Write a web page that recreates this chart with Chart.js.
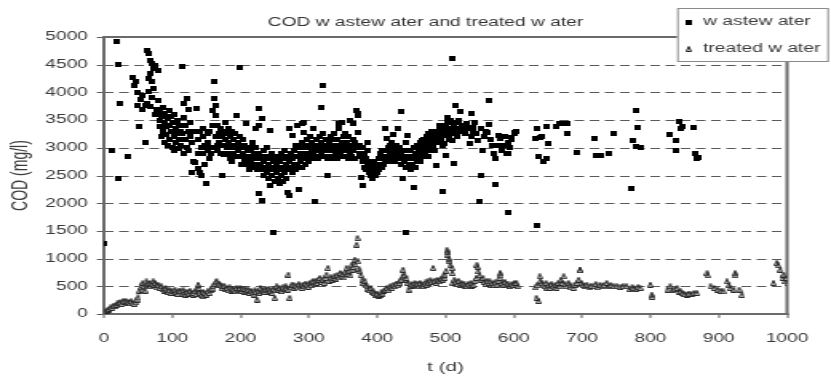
<!DOCTYPE html>
<html><head><meta charset="utf-8">
<script src="https://cdn.jsdelivr.net/npm/chart.js@4"></script>
<style>
html,body{margin:0;padding:0;background:#fff;overflow:hidden}
#wrap{width:831px;height:377px;overflow:hidden;position:relative}
#c{display:block;width:520px;height:377px;transform:scaleX(1.598);transform-origin:0 0}
</style></head><body><div id="wrap"><canvas id="c" width="520" height="377"></canvas></div>
<script>
// ---- data ----
const chartTitle = 'COD w astew ater and treated w ater';
const seriesNames = ['w astew ater', 'treated w ater'];
const xAxisTitle = 't (d)';
const yAxisTitle = 'COD (mg/l)';
const xTicks = [0,100,200,300,400,500,600,700,800,900,1000];
const yTicks = [0,500,1000,1500,2000,2500,3000,3500,4000,4500,5000];

// [day, COD mg/l]
const wastewater = [
[1,1270],[11,2950],[19,4920],[20,2440],[22,4510],[24,3800],[34,2850],
[43,4270],[45,4130],[46,4200],[48,4000],[50,3770],[52,3380],[53,3880],[55,3700],[57,3950],[60,3090],[61,3760],[62,3800],[63,4760],[65,4250],[65,4010],[66,4700],[67,4580],[67,4340],[68,3740],[70,4520],[70,4190],[71,3900],[72,4430],[72,4070],[74,4490],[75,3600],[77,3700],[79,4400],[80,3860],[81,3500],[82,3650],
[83,3380],[84,3200],[85,3560],[86,3720],[87,3300],[88,3460],[89,3100],[90,3620],[91,3380],[92,3240],[93,3520],[94,3050],[95,3680],[96,3400],[97,3150],[98,3560],[99,3300],[100,3000],[101,3450],[102,3200],[103,3600],[104,2950],[105,3350],[106,3100],[107,3500],[108,3250],[109,2980],[110,3400],[111,3150],[112,3300],[113,3050],[114,4460],[115,3250],[116,3550],[117,2900],[118,3800],[119,3150],[120,3400],[121,3890],[122,3000],[123,3300],[124,3700],[125,2950],[126,3200],[127,3450],[128,2560],[129,3100],[130,3300],
[132,2750],[134,2740],[136,3710],[137,2900],[138,2620],[139,3150],[140,3300],[141,2560],[142,3000],[143,2500],[144,3200],[145,2900],[146,3350],[147,2700],[148,3050],[150,2350],[151,3250],[152,2950],[153,3100],[154,2800],[155,3300],[156,3000],[157,2900],
[159,3400],[160,3675],[161,4190],[162,3886],[163,3766],[163,3585],[164,3200],[165,3050],[166,3400],[167,2950],[168,3250],[169,3100],[170,3350],[171,2900],[172,2500],[173,3200],[174,3050],[175,3300],[176,2880],[177,3150],[178,3450],[179,3000],[180,3250],
[181,2900],[182,3100],[183,3350],[184,2800],[185,3200],[186,3000],[187,3300],[188,2750],[189,3150],[190,2900],[191,3050],[192,3250],[194,3585],[195,2850],[196,3100],[197,2950],[198,3200],[199,4450],[200,2700],[201,3000],[202,2850],[203,3150],[204,2900],[205,2750],[206,3050],[207,2800],[209,3435],[210,2950],
[211,2700],[212,3000],[213,2850],[214,2600],[215,2950],[216,2750],[217,3100],[218,2800],[219,2650],[220,2900],[221,2700],[222,3000],[223,3344],[224,2800],[225,2600],[226,3404],[226,2170],[227,2900],[228,3705],[229,2700],[230,2850],[231,3525],[231,2050],[232,2600],[233,2950],[234,2750],[235,2500],[236,2850],[237,2650],[238,3000],[239,2550],[240,2800],[241,2450],[242,2700],[243,3314],[243,2321],[244,2600],[245,2900],[246,2500],[247,2750],[248,1478],[249,2650],[250,2400],[251,2850],[252,2550],[253,2700],[254,2450],[255,2800],[256,2600],[257,2350],[258,2750],
[259,2500],[260,2900],[261,2650],[262,2400],[263,2800],[264,2550],[265,2950],[266,2700],[267,2450],[268,2850],[269,2600],[270,2200],[271,2750],[272,3350],[272,2140],[273,2900],[274,2650],[275,3224],[276,2800],[277,2550],[278,2950],[279,2700],[280,3050],[281,2600],[282,3404],[283,2850],[284,2700],[285,2243],[286,3000],[287,2750],[288,2900],[289,3442],[290,2650],[291,3100],[292,3464],[292,3284],[293,2850],[294,2700],[295,3000],[296,2800],[297,3150],[298,2900],[299,2750],[300,3050],[301,2850],[302,3200],[303,2950],[304,2800],[305,3100],[306,2900],[307,3344],[308,3000],[309,2030],[310,2850],[311,3150],[312,2950],[313,3050],[314,2800],[315,3200],[316,2950],[317,3720],[318,3100],[319,2900],[320,4130],[321,3254],[322,3000],
[323,2850],[324,3150],[325,2950],[326,3050],[327,2800],[328,2501],[329,3100],[330,2950],[331,3200],[332,2850],[333,3050],[334,2950],[335,3150],[336,2800],[337,3000],[338,3250],[339,2900],[340,3050],[341,2800],[342,3150],[343,2950],[345,3344],[345,3442],[346,3050],[347,2900],[348,3464],[349,3100],[350,2950],[351,3200],[352,2850],[353,3050],[354,3250],[355,2950],[356,3100],[357,2800],[358,3000],[359,3200],[360,2900],[361,3500],[362,3050],[363,2850],[364,3150],[365,3434],[366,2950],[367,3100],[368,2800],[369,3000],[370,3677],[371,3620],[372,3284],[373,3587],[374,2900],[375,3050],[376,2471],[377,2850],[378,2321],[379,3000],[380,2750],[381,2900],[382,2650],[383,2800],[384,2600],[385,2950],[386,2700],[387,3103],[388,2550],[389,2750],[390,2600],[391,2500],[392,2700],[393,2450],[394,2650],[395,2550],[396,2750],[397,2500],[398,2600],[399,2700],[400,2550],[401,2650],[402,2800],[403,2600],[404,2700],[405,2900],[406,2650],[407,2800],[408,2950],[409,2700],[410,2850],[411,3352],[412,2750],[413,2950],[414,3164],[415,2850],[416,3000],[417,2750],[418,2900],[419,3050],[420,2800],
[421,2950],[422,3100],[423,3240],[424,2850],[425,3000],[426,2750],[427,2900],[428,3050],[429,2800],[430,2950],[431,3344],[432,2850],[433,3000],[434,2700],[435,2900],[436,3660],[437,2800],[438,2441],[439,2950],[440,2750],[441,3100],[442,2650],[443,1470],[444,2850],[445,3224],[446,2700],[447,2950],[448,2600],[449,2800],[450,2950],[451,2700],[452,2850],[453,2290],[454,3000],[455,2800],[456,2650],[457,2900],[458,3050],[459,2750],[460,2950],[461,2800],[462,3100],[463,2900],[464,2750],[465,3133],[466,3000],[467,2850],[468,3150],[469,2950],[470,3050],[471,2900],[472,3200],[473,3000],[474,2850],[475,3100],[476,3250],[477,2950],[478,3150],[479,3050],[480,3300],[481,3000],[482,3200],[483,3100],[484,2950],[485,3250],[486,3150],[487,2682],[488,3300],[489,3100],[490,3200],[491,3400],[492,3344],[493,3150],[494,3300],[495,3050],[496,2212],[497,3224],[498,3350],[499,3073],[500,3400],[501,2862],[502,3555],[503,3250],[504,3450],[505,3150],[506,3224],[507,3350],[508,3500],[509,3300],[510,4620],[511,3133],[512,2712],[513,3400],[514,3766],[515,3250],[516,3314],[517,3450],[518,3200],[519,3350],[520,3500],
[521,3657],[522,3300],[524,3400],[526,3344],[528,3250],[531,3434],[533,3350],[535,3073],[537,3200],[538,3615],[540,3300],[541,3374],[543,3450],[545,3250],[548,3133],[549,2032],[551,2501],[553,3350],[555,2953],[557,3200],[560,3300],[562,3284],[564,3856],[564,3416],[566,3150],[568,3050],[570,2893],[572,2802],[572,2333],[575,3050],[577,3224],[580,3164],[583,2950],[585,3050],[588,3200],[590,2900],[592,3103],[592,2893],[592,1839],[594,3013],[596,3150],[597,3194],[600,3250],[602,3284],[604,3300],
[632,3166],[634,1590],[635,3351],[637,2834],[638,3194],[641,3200],[644,2744],[647,3392],[648,2802],[650,3085],[663,3376],[666,3434],[673,3434],[678,3434],[678,3256],[692,2924],[719,3164],[721,2864],[727,2864],[740,2905],[747,3266],[773,2260],[775,3135],[779,3675],[780,3030],[782,3374],[785,3000],[829,3244],[838,3135],[838,2955],[841,3477],[844,3357],[846,3392],[864,3370],[866,2900],[868,2810],[870,2833]
];

const treatedWater = [
[0,20],[2,30],[4,60],[6,80],[8,90],[10,120],[12,110],[14,150],[16,140],[18,170],[20,190],[22,200],[24,210],[26,180],[28,230],[30,220],[32,240],[34,200],[36,220],[38,190],[40,230],[42,200],[44,180],[46,210],[48,260],[50,300],[52,420],[54,480],[55,520],[56,440],[57,560],[58,500],[60,420],[62,590],[63,520],[65,550],[67,560],[68,500],[70,540],[72,590],[73,530],[75,560],[77,530],[78,480],[80,520],[82,470],[84,500],[86,450],[88,420],[90,470],[92,440],[94,400],[96,430],[98,380],[100,420],[102,380],[104,440],[106,400],[108,360],[110,420],[112,410],[114,370],[116,430],[118,390],[120,350],[122,400],[124,370],[126,420],[128,380],[130,350],[131,380],[133,410],[135,360],[137,450],[138,530],[139,470],[141,380],[143,350],[145,400],[146,320],[148,380],[150,350],[152,410],[154,380],[156,430],[158,460],[160,500],[162,540],[164,570],[165,590],[167,520],[168,550],[170,530],[172,500],[174,470],[176,510],[178,450],[180,470],[182,430],[184,480],[186,420],[188,460],[190,440],[192,410],[194,470],[196,430],[198,450],[199,470],[201,420],[203,460],[205,400],[207,450],[209,410],[211,440],[213,380],[215,420],[217,390],[219,350],[221,430],[222,400],[224,260],[226,420],[228,380],[229,470],[231,410],[233,440],[235,400],[237,450],[238,440],[240,400],[242,460],[244,420],[246,380],[248,450],[250,290],[251,430],[253,500],[255,440],[257,470],[259,420],[260,410],[262,480],[264,450],[266,500],[267,470],[269,440],[270,710],[272,290],[273,480],[275,520],[277,530],[279,470],[281,510],[283,480],[285,540],[287,500],[289,470],[291,530],[293,500],[295,550],[297,530],[299,490],[301,560],[303,520],[305,580],[306,590],[308,540],[310,600],[312,560],[314,620],[316,650],[318,580],[320,620],[322,560],[324,650],[326,710],[328,830],[330,600],[332,660],[334,620],[336,650],[338,690],[340,640],[342,700],[344,660],[346,740],[348,680],[350,720],[352,660],[354,760],[355,830],[357,720],[359,780],[361,700],[363,890],[364,800],[365,850],[367,980],[368,900],[370,1250],[371,1370],[372,950],[373,820],[375,770],[376,700],[378,620],[380,560],[382,600],[383,520],[385,500],[387,460],[389,430],[391,470],[393,400],[394,410],[396,380],[398,350],[400,370],[402,330],[404,350],[406,400],[408,370],[410,420],[412,440],[414,470],[416,430],[418,480],[420,500],[422,470],[424,530],[426,500],[428,550],[430,520],[432,560],[433,590],[435,620],[437,680],[438,800],[440,700],[442,620],[443,650],[445,560],[446,440],[448,500],[450,540],[452,510],[453,530],[455,560],[457,520],[459,550],[461,500],[463,560],[465,530],[467,500],[469,550],[471,570],[472,530],[474,590],[476,560],[478,610],[480,580],[482,830],[484,600],[486,560],[488,620],[490,600],[492,590],[494,640],[496,620],[497,680],[499,650],[499,710],[501,780],[502,1160],[503,1119],[504,1070],[505,1000],[506,950],[507,880],[509,830],[510,740],[511,560],[513,620],[515,580],[517,540],[519,600],[521,530],[523,560],[525,520],[527,550],[529,510],[531,500],[533,540],[535,520],[537,560],[539,510],[541,530],[543,600],[545,650],[546,890],[547,848],[548,770],[550,700],[552,620],[555,650],[557,580],[559,540],[561,600],[563,560],[565,590],[567,530],[569,560],[571,520],[573,570],[575,530],[577,600],[579,650],[580,740],[581,699],[583,560],[585,530],[587,580],[589,520],[591,550],[593,500],[595,500],[597,540],[599,520],[601,560],[603,530],[604,560],[606,500],
[632,480],[633,290],[634,520],[636,235],[638,680],[639,600],[641,560],[643,530],[645,500],[647,560],[649,470],[651,520],[653,470],[655,540],[657,500],[659,480],[661,530],[663,470],[665,560],[667,500],[669,620],[671,560],[673,680],[675,540],[677,500],[680,560],[682,520],[684,480],[687,470],[689,530],[692,560],[695,620],[697,800],[697,789],[699,560],[701,520],[704,500],[707,530],[710,480],[713,510],[717,500],[720,540],[723,480],[726,530],[729,500],[732,520],[736,560],[739,500],[742,520],[746,500],[751,500],[756,490],[760,500],[765,500],[770,450],[773,480],[775,470],[778,460],[782,490],[785,470],[800,530],[802,350],[803,307],[825,440],[829,500],[832,430],[836,450],[839,470],[842,400],[844,410],[847,380],[850,360],[853,350],[856,370],[860,360],[864,380],[868,380],[883,740],[884,699],[888,500],[893,470],[898,440],[903,420],[907,410],[912,590],[915,520],[917,470],[922,440],[924,740],[925,699],[930,440],[934,343],[980,560],[985,920],[987,879],[990,800],[993,650],[995,710],[997,590],[999,650],[1000,554]
];

// ---- styles ----
const FONT = 'Liberation Sans, Arial, sans-serif';
const TEXT = '#3a3a3a';
const GRID = '#5a5a5a';

function squareMarker() {
  const c = document.createElement('canvas'); c.width = 4; c.height = 5;
  const g = c.getContext('2d'); g.fillStyle = '#000'; g.fillRect(0, 0, 4, 5);
  return c;
}
function triangleMarker() {
  const c = document.createElement('canvas'); c.width = 4; c.height = 6;
  const g = c.getContext('2d');
  g.beginPath(); g.moveTo(0.5, 5.5); g.lineTo(2, 0.5); g.lineTo(3.5, 5.5); g.closePath();
  g.fillStyle = '#e8e8e8'; g.fill(); g.strokeStyle = '#222'; g.lineWidth = 1; g.stroke();
  return c;
}
const markers = [squareMarker(), triangleMarker()];

// position of a tick value along an axis
function yPixel(chart, v) {
  const a = chart.chartArea;
  let p = chart.scales.y.getPixelForValue(v);
  if (!isFinite(p)) p = a.bottom - (v - yTicks[0]) / (yTicks[yTicks.length - 1] - yTicks[0]) * (a.bottom - a.top);
  return Math.round(p);
}
function xPixel(chart, v) {
  const a = chart.chartArea;
  let p = chart.scales.x.getPixelForValue(v);
  if (!isFinite(p)) p = a.left + (v - xTicks[0]) / (xTicks[xTicks.length - 1] - xTicks[0]) * (a.right - a.left);
  return Math.round(p);
}

// dashed gridlines, tick marks and the plot frame (filled rectangles)
const framePlugin = {
  id: 'frame',
  beforeDatasetsDraw(chart) {
    const {ctx, chartArea: a} = chart;
    ctx.save();
    ctx.fillStyle = GRID;
    const dash = 6, gap = 3.5;
    yTicks.forEach(v => {
      const py = yPixel(chart, v);
      for (let x = a.left; x < a.right; x += dash + gap) {
        ctx.fillRect(x, py, Math.min(dash, a.right - x), 1);
      }
      ctx.fillRect(a.left - 4.4, py, 4.4, 1);
    });
    xTicks.forEach(v => {
      const px = xPixel(chart, v);
      ctx.fillRect(px - 0.5, a.bottom, 1, 4);
    });
    ctx.fillStyle = '#6a6a6a';
    ctx.fillRect(a.left - 1, a.top - 1, a.right - a.left + 2, 2);
    ctx.fillRect(a.left - 1, a.bottom - 1, a.right - a.left + 2, 2);
    ctx.fillRect(a.left - 1, a.top - 1, 2, a.bottom - a.top + 2);
    ctx.fillRect(a.right - 1, a.top - 1, 2, a.bottom - a.top + 2);
    ctx.restore();
  }
};
const titleShiftPlugin = {
  id: 'titleShift',
  afterLayout(chart) {
    if (chart.titleBlock) { chart.titleBlock.left += 20; chart.titleBlock.right += 20; }
  }
};
const boxLegendPlugin = {
  id: 'boxLegend',
  afterDraw(chart) {
    const ctx = chart.ctx;
    const x0 = 423.7, y0 = 8, w = 95, h = 54;
    ctx.save();
    ctx.fillStyle = '#fff'; ctx.fillRect(x0, y0, w, h);
    ctx.strokeStyle = '#8a8a8a'; ctx.lineWidth = 1;
    ctx.strokeRect(x0 + 0.5, y0 + 0.5, w - 1, h - 1);
    ctx.font = '12px ' + FONT; ctx.fillStyle = TEXT; ctx.textBaseline = 'middle'; ctx.textAlign = 'left';
    const rows = [22, 49];
    chart.data.datasets.forEach((ds, i) => {
      const m = markers[i];
      ctx.drawImage(m, Math.round(431.2 - m.width / 2), Math.round(rows[i] - m.height / 2));
      ctx.fillText(ds.label, 440, rows[i]);
    });
    ctx.restore();
  }
};

new Chart(document.getElementById('c'), {
  type: 'scatter',
  data: {
    datasets: [
      { label: seriesNames[0], data: wastewater.map(p => ({x: p[0], y: p[1]})),
        pointStyle: markers[0], pointRadius: 2, backgroundColor: '#000', borderColor: '#000' },
      { label: seriesNames[1], data: treatedWater.map(p => ({x: p[0], y: p[1]})),
        pointStyle: markers[1], pointRadius: 2, backgroundColor: '#fff', borderColor: '#333' }
    ]
  },
  options: {
    responsive: false,
    animation: false,
    events: [],
    devicePixelRatio: 1,
    layout: { padding: { left: 0, right: 27.5, top: 0, bottom: 0 } },
    plugins: {
      legend: { display: false },
      tooltip: { enabled: false },
      title: { display: true, text: chartTitle, color: '#333',
               font: { family: FONT, size: 12, weight: 'normal', lineHeight: 1.2 },
               padding: { top: 15, bottom: 7.6 } }
    },
    scales: {
      x: {
        type: 'linear', min: 0, max: 1000,
        afterBuildTicks: s => { s.ticks = xTicks.map(v => ({value: v})); },
        afterFit: s => { s.height = 63; },
        ticks: { autoSkip: false, maxRotation: 0, color: TEXT, padding: 13,
                 font: { family: FONT, size: 12 }, callback: v => String(v) },
        grid: { display: true, drawOnChartArea: false, drawTicks: true, tickLength: 4,
                color: 'rgba(0,0,0,0)', tickColor: 'rgba(0,0,0,0)' },
        border: { display: false },
        title: { display: true, text: xAxisTitle, color: TEXT,
                 font: { family: FONT, size: 13 }, padding: { top: 0, bottom: 2 } }
      },
      y: {
        type: 'linear', min: 0, max: 5000,
        afterBuildTicks: s => { s.ticks = yTicks.map(v => ({value: v})); },
        afterFit: s => { s.width = 65; },
        ticks: { color: TEXT, padding: 5.6, font: { family: FONT, size: 12 }, callback: v => String(v) },
        grid: { display: true, drawOnChartArea: false, drawTicks: true, tickLength: 4.4,
                color: 'rgba(0,0,0,0)', tickColor: 'rgba(0,0,0,0)', lineWidth: 1 },
        border: { display: false },
        title: { display: true, text: yAxisTitle, color: TEXT,
                 font: { family: FONT, size: 14 }, padding: { top: 4.6, bottom: 0 } }
      }
    }
  },
  plugins: [framePlugin, titleShiftPlugin, boxLegendPlugin]
});
</script></body></html>
